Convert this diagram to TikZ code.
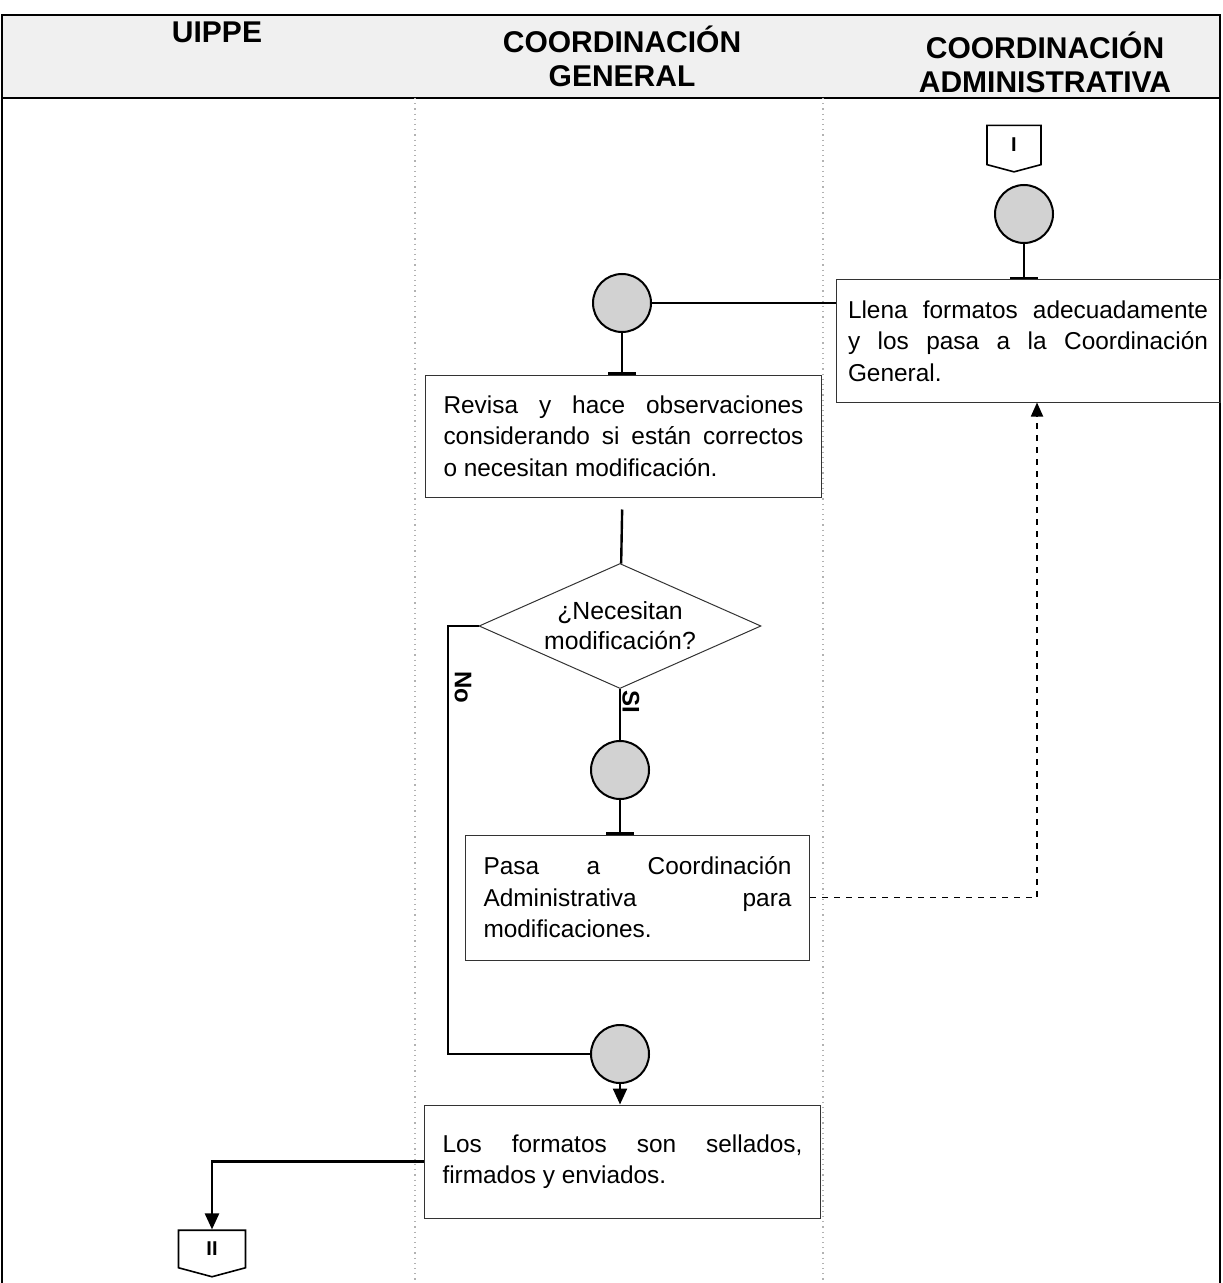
\documentclass[tikz,border=0pt]{standalone}
\usepackage{fontspec}
\setmainfont{Liberation Sans}
\usepackage{xcolor}
\usepackage{tikz}
\usetikzlibrary{shapes.geometric,shapes.symbols,arrows.meta}

\begin{document}
\begin{tikzpicture}[x=0.5pt,y=-0.5pt,
    paso/.style={draw=black!80,line width=0.5pt,rectangle,align=justify,text width=180pt,inner xsep=9pt,font=\fontsize{12.2}{15.7}\selectfont},
    punto/.style={draw,circle,line width=1pt,fill=gray!35,minimum size=29pt,inner sep=0pt},
    conector/.style={draw,signal,signal to=south,signal from=nowhere,signal pointer angle=150,line width=0.8pt,inner sep=0pt,font=\bfseries},
    linea/.style={line width=1.2pt},
    tope/.style={linea,-{Bar[width=14pt,line width=1.2pt]}},
    flecha/.style={linea,-{Triangle[width=7pt,length=8pt]}},
    carril/.style={gray!60,dotted,line width=0.6pt},
    titulo/.style={font=\fontsize{15}{17}\selectfont\bfseries,align=center}]

    \useasboundingbox (0,0) rectangle (1222,1283);
    % encabezado y carriles
    \fill[gray!12] (2,15) rectangle (1220,98);
    \draw[line width=0.6pt] (2,1283) -- (2,15) -- (1220,15) -- (1220,1283);
    \draw[line width=0.6pt] (2,98) -- (1220,98);
    \draw[carril] (415,98) -- (415,1283);
    \draw[carril] (823,98) -- (823,1283);
    \node[titulo] (t1) at (217,32) {UIPPE};
    \node[titulo] (t2) at (622,56) {COORDINACIÓN\\GENERAL};
    \node[titulo] (t3) at (1045,62) {COORDINACIÓN\\ADMINISTRATIVA};

    \node[conector,minimum width=27pt,minimum height=20pt] (I) at (1014,145) {I};
    \node[punto] (c1) at (1024,214) {};
    \node[paso,inner xsep=6pt,minimum height=61pt] (b1) at (1028,341) {Llena formatos adecuadamente\linebreak y los pasa a la Coordinación\linebreak General.};
    \node[punto] (c2) at (622,303) {};
    \node[paso,minimum height=61pt] (b2) at (623.5,436) {Revisa y hace observaciones\linebreak considerando si están correctos\linebreak o necesitan modificación.};
    \node[draw=black!80,line width=0.5pt,diamond,aspect=2.25,minimum width=141pt,minimum height=62.5pt,inner sep=0pt,align=center,font=\fontsize{12.4}{15}\selectfont] (d) at (620,626) {¿Necesitan\\modificación?};
    \node[punto] (c4) at (620,770) {};
    \node[paso,text width=154pt,minimum height=62.5pt] (b3) at (637.5,897.5) {Pasa a Coordinación\linebreak Administrativa para\linebreak modificaciones.};
    \node[punto] (c3) at (620,1054) {};
    \node[paso,minimum height=56.5pt] (b4) at (622.5,1161.5) {Los formatos son sellados,\linebreak firmados y enviados.};
    \node[conector,minimum width=33.5pt,minimum height=19.5pt] (II) at (212,1249) {II};
    \coordinate (k) at (448,800);

    \draw[tope] (c1) to (c1 |- b1.north);
    \draw[linea] (c2) to (c2 -| b1.west);
    \draw[tope] (c2) to (c2 |- b2.north);
    \draw[linea,shorten <=6pt] (b2) to (d);
    \draw[linea] (d.west) -| (k) |- (c3);
    \node[rotate=-90,font=\fontsize{12}{14}\selectfont\bfseries] (no) at (463,687) {No};
    \draw[linea] (d) to (c4);
    \node[rotate=-90,fill=white,inner sep=1pt,font=\fontsize{12}{14}\selectfont\bfseries] (si) at (631,702) {SI};
    \draw[tope] (c4) to (c4 |- b3.north);
    \draw[line width=0.9pt,dashed,-{Triangle[width=6pt,length=7pt]}] (b3.east) -| ([xshift=4.5pt]b1.south);
    \draw[flecha] (c3) to (c3 |- b4.north);
    \draw[flecha] (b4.west) -| (II);
\end{tikzpicture}
\end{document}
